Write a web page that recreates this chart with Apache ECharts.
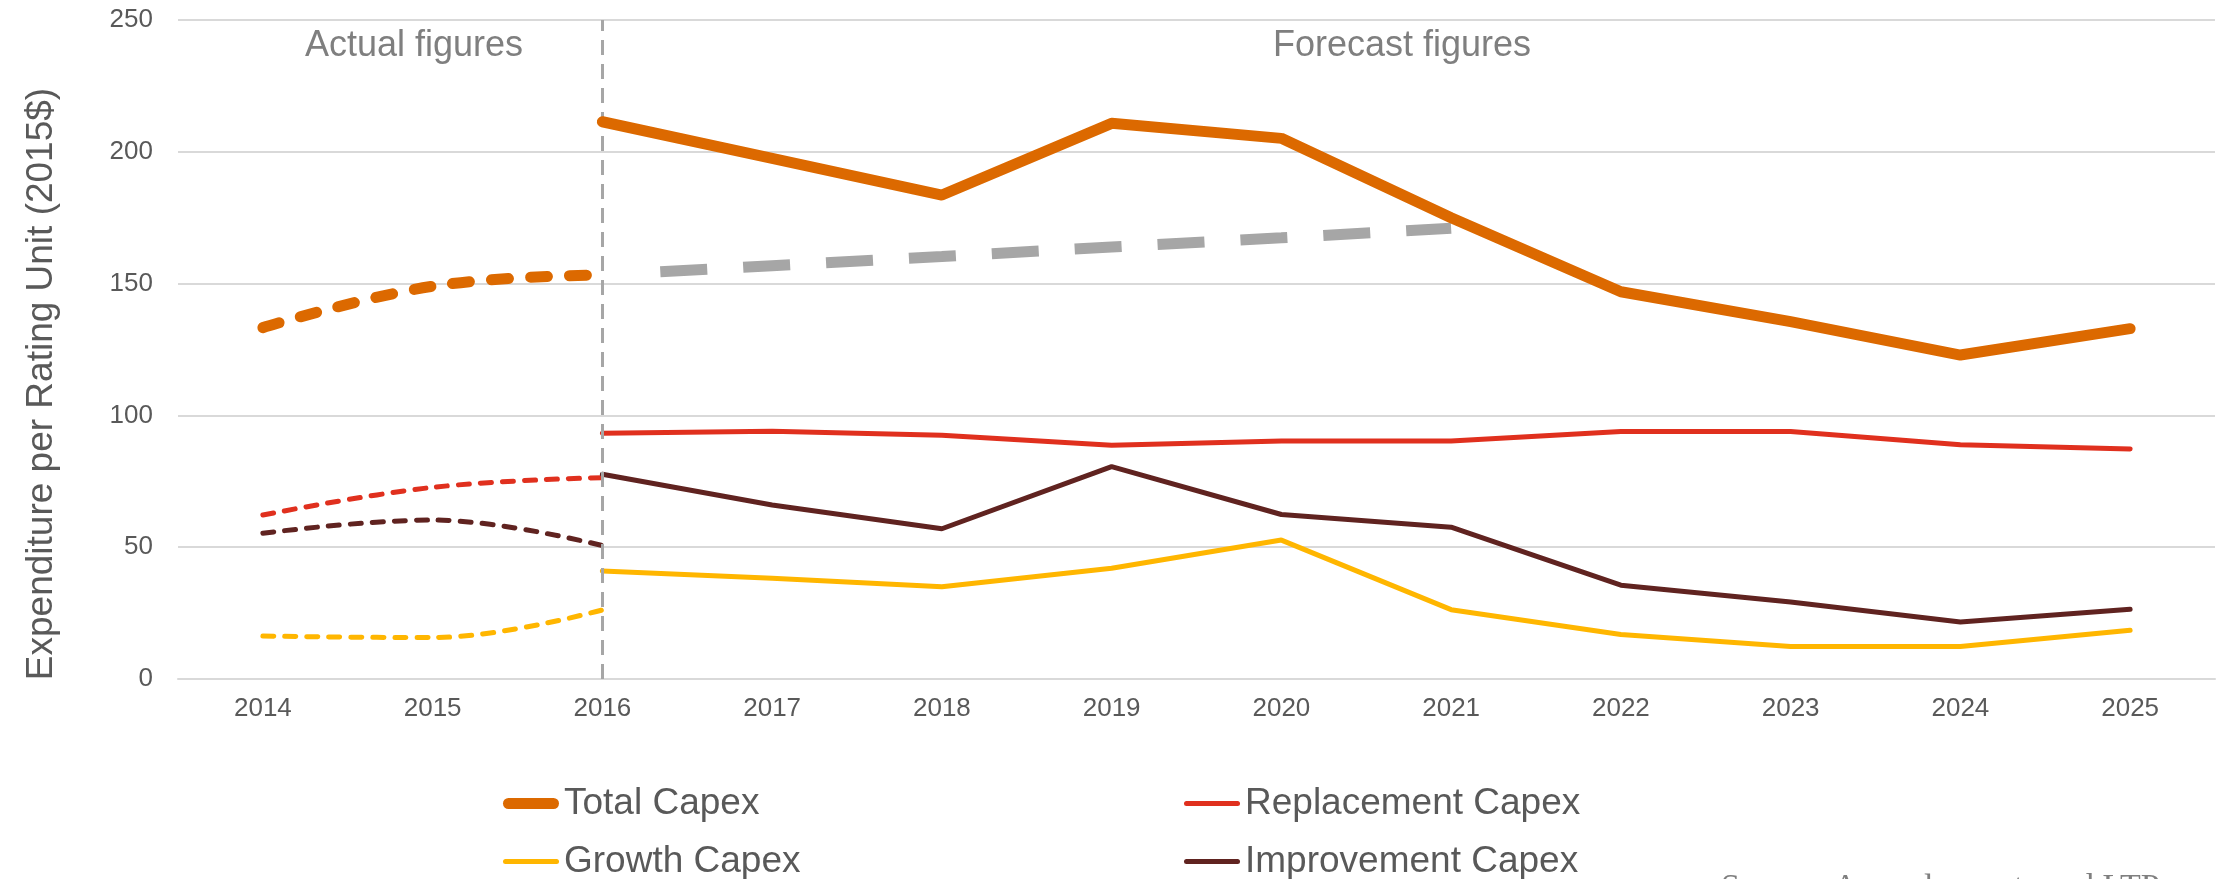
<!DOCTYPE html>
<html>
<head>
<meta charset="utf-8">
<script src="https://cdn.jsdelivr.net/npm/echarts@6/dist/echarts.min.js"></script>
<style>
html,body{margin:0;padding:0;background:#fff;}
#chart{width:2223px;height:879px;}
</style>
</head>
<body>
<div id="chart"></div>
<script>
const years = ['2014','2015','2016','2017','2018','2019','2020','2021','2022','2023','2024','2025'];
const yTicks = [0, 50, 100, 150, 200, 250];

// Actual figures (dashed, 2014-2016)
const totalActual       = [133.3, 149.0, 153.3, null, null, null, null, null, null, null, null, null];
const replacementActual = [62.2, 72.7, 76.4, null, null, null, null, null, null, null, null, null];
const improvementActual = [55.3, 60.3, 50.6, null, null, null, null, null, null, null, null, null];
const growthActual      = [16.3, 15.7, 26.2, null, null, null, null, null, null, null, null, null];

// Forecast figures (solid, 2016-2025)
const totalCapex       = [null, null, 211.4, 197.5, 183.6, 210.8, 205.1, 175.0, 146.9, 135.6, 122.9, 132.9];
const replacementCapex = [null, null, 93.2, 94.0, 92.5, 88.7, 90.3, 90.3, 93.9, 93.9, 88.9, 87.3];
const improvementCapex = [null, null, 77.7, 66.0, 57.0, 80.6, 62.4, 57.6, 35.6, 29.2, 21.6, 26.5];
const growthCapex      = [null, null, 41.0, 38.2, 35.0, 42.0, 52.7, 26.3, 16.9, 12.3, 12.3, 18.5];

// Grey trend (dashed, 2016-2021)
const trendLine = [null, null, 153.3, 156.8, 160.3, 163.9, 167.4, 171.0, null, null, null, null];

const C_TOTAL = '#DC6900', C_REPL = '#E0301E', C_GROW = '#FFB600', C_IMPR = '#602320', C_GREY = '#A6A6A6';
const FONT = '"Liberation Sans", Arial, sans-serif';

const ICON_THICK = 'path://M5.5,0 L50.5,0 A5.5,5.5 0 0 1 50.5,11 L5.5,11 A5.5,5.5 0 0 1 5.5,0 Z';
const ICON_THIN  = 'path://M2.5,0 L53.5,0 A2.5,2.5 0 0 1 53.5,5 L2.5,5 A2.5,2.5 0 0 1 2.5,0 Z';

function legendAt(name, left, top, thick) {
  return {
    data: [{ name: name, icon: thick ? ICON_THICK : ICON_THIN }],
    left: left, top: top, orient: 'horizontal',
    itemWidth: 56, itemHeight: thick ? 11 : 5, padding: 0,
    textStyle: { color: '#595959', fontSize: 37, fontFamily: FONT },
    selectedMode: false
  };
}

// grey trend dash: initial gap, then regular dashes
const trendDash = [0, 58];
for (let i = 0; i < 10; i++) { trendDash.push(47, 36); }

const chart = echarts.init(document.getElementById('chart'));

chart.setOption({
  animation: false,
  backgroundColor: '#ffffff',
  grid: { left: 178, right: 8, top: 20, bottom: 200, containLabel: false },
  xAxis: {
    type: 'category', data: years, boundaryGap: true,
    axisLine: { show: true, lineStyle: { color: '#D9D9D9', width: 2 } },
    axisTick: { show: false },
    axisLabel: { color: '#595959', fontSize: 26, fontFamily: FONT, margin: 17 }
  },
  yAxis: {
    type: 'value', min: 0, max: 250, interval: 50,
    axisLine: { show: false }, axisTick: { show: false },
    splitLine: { lineStyle: { color: '#D9D9D9', width: 2 } },
    axisLabel: { color: '#595959', fontSize: 26, fontFamily: FONT, margin: 25,
      formatter: v => yTicks.includes(v) ? String(v) : '' }
  },
  legend: [
    legendAt('Total Capex', 503, 785, true),
    legendAt('Replacement Capex', 1184, 785, false),
    legendAt('Growth Capex', 503, 843, false),
    legendAt('Improvement Capex', 1184, 843, false)
  ],
  graphic: [
    { type: 'text', x: 42, y: 384, rotation: Math.PI / 2,
      style: { text: 'Expenditure per Rating Unit (2015$)', fill: '#595959', fontSize: 37, fontFamily: FONT,
        align: 'center', verticalAlign: 'middle' } },
    { type: 'text', x: 414, y: 46,
      style: { text: 'Actual figures', fill: '#7F7F7F', fontSize: 36, fontFamily: FONT, align: 'center', verticalAlign: 'middle' } },
    { type: 'text', x: 1402, y: 46,
      style: { text: 'Forecast figures', fill: '#7F7F7F', fontSize: 36, fontFamily: FONT, align: 'center', verticalAlign: 'middle' } },
    { type: 'text', x: 1721, y: 888,
      style: { text: 'Source: Annual reports and LTPs', fill: '#7F7F7F', fontSize: 34,
        fontFamily: '"Liberation Serif", "Times New Roman", serif', align: 'left', verticalAlign: 'middle' } }
  ],
  series: [
    { name: 'Trend', type: 'line', data: trendLine, symbol: 'none', z: 2,
      lineStyle: { color: C_GREY, width: 11, type: trendDash, cap: 'butt' },
      markLine: { silent: true, symbol: 'none', label: { show: false },
        lineStyle: { color: '#A6A6A6', width: 3, type: [15, 9] },
        data: [{ xAxis: '2016' }] } },
    { name: 'Total Capex (actual)', type: 'line', data: totalActual, symbol: 'none', smooth: 0.4, z: 3,
      lineStyle: { color: C_TOTAL, width: 11, type: [17, 22], cap: 'round' } },
    { name: 'Replacement Capex (actual)', type: 'line', data: replacementActual, symbol: 'none', smooth: 0.4, z: 3,
      lineStyle: { color: C_REPL, width: 5, type: [11, 11], cap: 'round' } },
    { name: 'Improvement Capex (actual)', type: 'line', data: improvementActual, symbol: 'none', smooth: 0.4, z: 3,
      lineStyle: { color: C_IMPR, width: 5, type: [11, 11], cap: 'round' } },
    { name: 'Growth Capex (actual)', type: 'line', data: growthActual, symbol: 'none', smooth: 0.4, z: 3,
      lineStyle: { color: C_GROW, width: 5, type: [11, 11], cap: 'round' } },
    { name: 'Growth Capex', type: 'line', data: growthCapex, symbol: 'none', z: 4,
      itemStyle: { color: C_GROW }, lineStyle: { color: C_GROW, width: 5, cap: 'round' } },
    { name: 'Improvement Capex', type: 'line', data: improvementCapex, symbol: 'none', z: 4,
      itemStyle: { color: C_IMPR }, lineStyle: { color: C_IMPR, width: 5, cap: 'round' } },
    { name: 'Replacement Capex', type: 'line', data: replacementCapex, symbol: 'none', z: 4,
      itemStyle: { color: C_REPL }, lineStyle: { color: C_REPL, width: 5, cap: 'round' } },
    { name: 'Total Capex', type: 'line', data: totalCapex, symbol: 'none', z: 5,
      itemStyle: { color: C_TOTAL }, lineStyle: { color: C_TOTAL, width: 11, cap: 'round', join: 'round' } }
  ]
});
</script>
</body>
</html>
